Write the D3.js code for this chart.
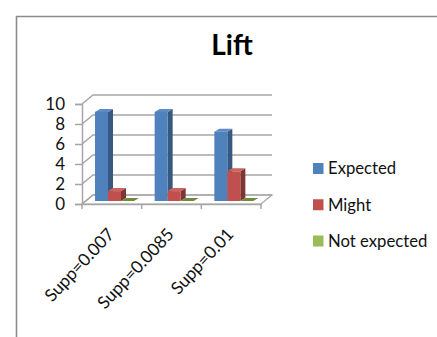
<!DOCTYPE html>
<html><head><meta charset="utf-8">
<script src="https://cdn.jsdelivr.net/npm/d3@7/dist/d3.min.js"></script>
<style>html,body{margin:0;padding:0;background:#fff}svg{display:block}text{font-family:Lato,"Open Sans",sans-serif}</style>
</head><body><svg id="c" width="437" height="337"></svg>
<script>
const categories=["Supp=0.007","Supp=0.0085","Supp=0.01"];
const seriesNames=["Expected","Might","Not expected"];
const expected=[9,9,7];
const might=[1,1,3];
const notExpected=[0,0,0];
const yTicks=[0,2,4,6,8,10];
const colors=["#4f81bd","#c0504d","#9bbb59"];
const topColors=["#5b8cc6","#cb6360","#a5c563"];
const sideColors=["#37597f","#7f3533","#6f8a3c"];
const values=[expected,might,notExpected];

const svg=d3.select("#c");
svg.append("path").attr("d","M16.5,337V16.5H437").attr("fill","none").attr("stroke","#8c8c8c").attr("stroke-width",1.6);
svg.append("text").attr("x",232).attr("y",55).attr("text-anchor","middle").attr("font-size",28).attr("font-weight",700).attr("fill","#000").text("Lift");

const dx=11,dy=-9;
const x=d3.scaleBand().domain(categories).range([82,261]);
const y=d3.scaleLinear().domain([0,10]).range([204,104]);
const barY=d3.scaleLinear().domain([0,10]).range([201,102]);
const grid="#a6a6a6";
svg.append("path").attr("d",`M${x.range()[0]},${y(0)}L${x.range()[0]+dx},${y(0)+dy}H${x.range()[1]+dx}L${x.range()[1]},${y(0)}Z`).attr("fill","#fff").attr("stroke",grid).attr("stroke-width",1.2);
yTicks.forEach(t=>{
  svg.append("path").attr("d",`M${x.range()[0]},${y(t)}L${x.range()[0]+dx},${y(t)+dy}H${x.range()[1]+dx}`).attr("fill","none").attr("stroke",grid).attr("stroke-width",1.5);
});
const inner=d3.scaleBand().domain(seriesNames).range([13,52]);
const ddx=5,ddy=-3;
seriesNames.forEach((s,si)=>{
  const g=svg.append("g");
  categories.forEach((c,ci)=>{
    const v=values[si][ci];
    const bx=x(c)+inner(s),w=inner.bandwidth(),t=barY(v),b=barY(0);
    g.append("path").attr("d",`M${bx+w},${t}l${ddx},${ddy}V${b+ddy}l${-ddx},${-ddy}Z`).attr("fill",sideColors[si]);
    g.append("path").attr("d",`M${bx},${t}l${ddx},${ddy}h${w}l${-ddx},${-ddy}Z`).attr("fill",v===0?sideColors[si]:topColors[si]);
    if(v>0)g.append("rect").attr("x",bx).attr("y",t).attr("width",w).attr("height",b-t).attr("fill",colors[si]);
  });
});
const ya=svg.append("g").attr("transform",`translate(${x.range()[0]},0)`).call(d3.axisLeft(y).tickValues(yTicks).tickSize(7).tickPadding(10));
ya.selectAll("text").attr("font-size",17).attr("fill","#111").style("font-family","Lato");
const xa=svg.append("g").attr("transform",`translate(0,${y(0)})`).call(d3.axisBottom(x).tickSize(0).tickFormat(""));
const edges=[...categories.map(c=>x(c)),x.range()[1]];
xa.selectAll(".edge").data(edges).enter().append("line").attr("class","edge").attr("x1",d=>d).attr("x2",d=>d).attr("y1",0).attr("y2",5);
svg.selectAll(".domain,.tick line,.edge").attr("stroke",grid).attr("stroke-width",1.5);
categories.forEach(c=>{
  const cx=x(c)+x.bandwidth()/2;
  svg.append("text").attr("transform",`translate(${cx-1},${y(0)+27}) rotate(-47)`).attr("text-anchor","end").attr("font-size",17.3).attr("fill","#111").attr("dy","0.35em").text(c);
});
const ly=d3.scalePoint().domain(seriesNames).range([168.5,241]);
seriesNames.forEach((s,i)=>{
  svg.append("rect").attr("x",313).attr("y",ly(s)-5.5).attr("width",10.5).attr("height",11).attr("fill",colors[i]);
  svg.append("text").attr("x",328).attr("y",ly(s)).attr("dy","0.35em").attr("font-size",16.7).attr("fill","#111").text(s);
});
</script></body></html>
